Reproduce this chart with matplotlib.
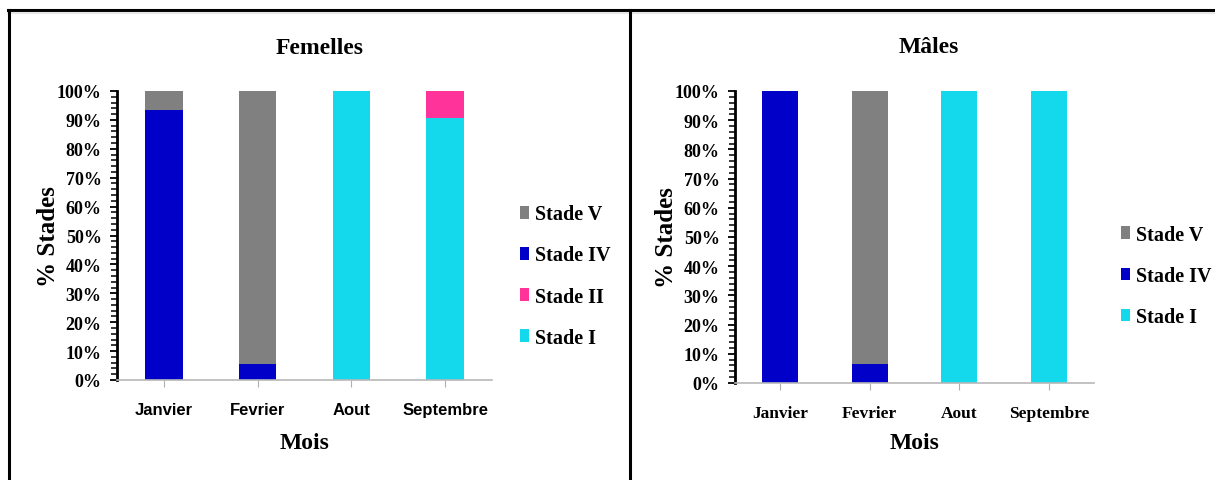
import matplotlib
matplotlib.use("Agg")
import matplotlib.pyplot as plt
from matplotlib.lines import Line2D
from matplotlib.patches import Patch
from matplotlib.ticker import MultipleLocator, PercentFormatter

plt.rcParams["font.family"] = ["Liberation Serif", "DejaVu Serif"]
plt.rcParams["font.weight"] = "bold"

mois = ["Janvier", "Fevrier", "Aout", "Septembre"]

# % of each maturity stage per month (stacked bottom -> top: I, II, IV, V)
femelles_stade_I = [0, 0, 100, 90.5]
femelles_stade_II = [0, 0, 0, 9.5]
femelles_stade_IV = [93.5, 5.5, 0, 0]
femelles_stade_V = [6.5, 94.5, 0, 0]

males_stade_I = [0, 0, 100, 100]
males_stade_IV = [100, 6.5, 0, 0]
males_stade_V = [0, 93.5, 0, 0]

colors = {
    "Stade I": "#14d9ec",
    "Stade II": "#ff3399",
    "Stade IV": "#0000c8",
    "Stade V": "#808080",
}


def stacked(ax, series, tick_font):
    bottom = [0] * len(mois)
    for name, vals in series:
        ax.bar(range(len(mois)), vals, width=0.4, bottom=bottom,
               color=colors[name], edgecolor="none", zorder=2)
        bottom = [b + v for b, v in zip(bottom, vals)]

    ax.set_xlim(-0.5, len(mois) - 0.5)
    ax.set_ylim(0, 100)
    ax.yaxis.set_major_locator(MultipleLocator(10))
    ax.yaxis.set_minor_locator(MultipleLocator(2))
    ax.yaxis.set_major_formatter(PercentFormatter(decimals=0))
    ax.tick_params(axis="y", which="major", length=5, width=1.3, pad=6,
                   labelsize=13, direction="out")
    ax.tick_params(axis="y", which="minor", length=4, width=1.1, direction="out")
    ax.set_xticks(range(len(mois)))
    ax.set_xticklabels(mois, **tick_font)
    ax.tick_params(axis="x", length=5, color="#b0b0b0", pad=11)

    for s in ("top", "right"):
        ax.spines[s].set_visible(False)
    ax.spines["left"].set_linewidth(2.0)
    ax.spines["bottom"].set_color("#b8b8b8")
    ax.spines["bottom"].set_linewidth(1.2)

    ax.set_ylabel("% Stades", fontsize=18, fontweight="bold")
    ax.set_xlabel("Mois", fontsize=17, fontweight="bold")

    handles = [Patch(facecolor=colors[name], edgecolor="none")
               for name, _ in reversed(series)]
    labels = [name for name, _ in reversed(series)]
    return handles, labels


fig = plt.figure(figsize=(12.15, 4.81), dpi=100)
H = 481.0
W = 1215.0

ax1 = fig.add_axes([117 / W, 1 - 381 / H, 375 / W, 289 / H])
ax2 = fig.add_axes([735 / W, 1 - 384 / H, 359 / W, 292 / H])

sans_narrow = dict(fontsize=12, fontweight="bold",
                   family=["Liberation Sans Narrow", "Liberation Sans", "DejaVu Sans"])
serif = dict(fontsize=12.5, fontweight="bold")

h1, l1 = stacked(ax1, [("Stade I", femelles_stade_I), ("Stade II", femelles_stade_II),
                       ("Stade IV", femelles_stade_IV), ("Stade V", femelles_stade_V)],
                 sans_narrow)
h2, l2 = stacked(ax2, [("Stade I", males_stade_I), ("Stade IV", males_stade_IV),
                       ("Stade V", males_stade_V)], serif)

ax1.yaxis.set_label_coords(-0.152, 0.5)
ax1.xaxis.set_label_coords(0.5, -0.18)
ax2.yaxis.set_label_coords(-0.158, 0.5)
ax2.xaxis.set_label_coords(0.5, -0.168)

ax1.text(0.541, 1.152, "Femelles", transform=ax1.transAxes, ha="center",
         va="center", fontsize=17, fontweight="bold")
ax2.text(0.54, 1.151, "Mâles", transform=ax2.transAxes, ha="center",
         va="center", fontsize=17, fontweight="bold")

legend_kw = dict(loc="center left", frameon=False, fontsize=14.5,
                 handlelength=0.45, handleheight=0.6, handletextpad=0.3,
                 labelspacing=1.05, borderpad=0, borderaxespad=0,
                 bbox_transform=fig.transFigure)
fig.legend(h1, l1, bbox_to_anchor=(520 / W, 1 - 277 / H), **legend_kw)
fig.legend(h2, l2, bbox_to_anchor=(1121 / W, 1 - 277 / H), **legend_kw)

# panel frame: top rule, left edge and middle divider
top = 1 - 11 / H
fig.add_artist(Line2D([8 / W, 1], [top, top], color="black", lw=2.2,
                      transform=fig.transFigure))
fig.add_artist(Line2D([8 / W, 1], [top - 3 / H, top - 3 / H], color="#e6e6e6",
                      lw=1.5, transform=fig.transFigure))
fig.add_artist(Line2D([8.5 / W, 8.5 / W], [0, top], color="black", lw=2.2,
                      transform=fig.transFigure))
fig.add_artist(Line2D([630 / W, 630 / W], [0, top], color="black", lw=2.2,
                      transform=fig.transFigure))

fig.savefig("out.png", dpi=100)
